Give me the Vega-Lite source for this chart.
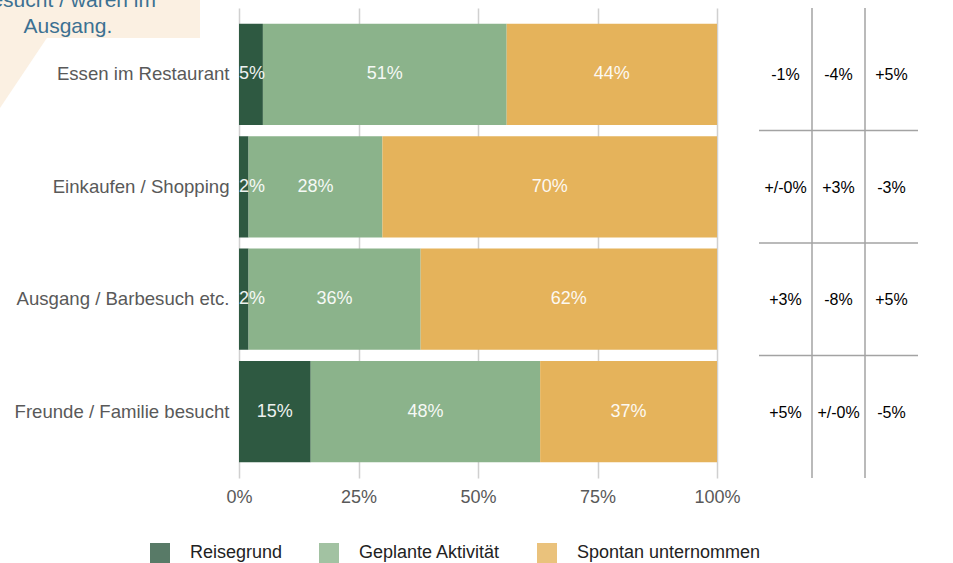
{
  "$schema": "https://vega.github.io/schema/vega-lite/v6.json",
  "width": 478,
  "height": 470,
  "autosize": {"type": "none"},
  "padding": {"left": 239, "top": 8, "right": 236, "bottom": 85},
  "config": {
    "view": {"stroke": null},
    "font": "Liberation Sans",
    "text": {"font": "Liberation Sans"}
  },
  "datasets": {
    "shares": [
      {"activity": "Essen im Restaurant", "reason": "Reisegrund", "pct": 5},
      {"activity": "Essen im Restaurant", "reason": "Geplante Aktivität", "pct": 51},
      {"activity": "Essen im Restaurant", "reason": "Spontan unternommen", "pct": 44},
      {"activity": "Einkaufen / Shopping", "reason": "Reisegrund", "pct": 2},
      {"activity": "Einkaufen / Shopping", "reason": "Geplante Aktivität", "pct": 28},
      {"activity": "Einkaufen / Shopping", "reason": "Spontan unternommen", "pct": 70},
      {"activity": "Ausgang / Barbesuch etc.", "reason": "Reisegrund", "pct": 2},
      {"activity": "Ausgang / Barbesuch etc.", "reason": "Geplante Aktivität", "pct": 36},
      {"activity": "Ausgang / Barbesuch etc.", "reason": "Spontan unternommen", "pct": 62},
      {"activity": "Freunde / Familie besucht", "reason": "Reisegrund", "pct": 15},
      {"activity": "Freunde / Familie besucht", "reason": "Geplante Aktivität", "pct": 48},
      {"activity": "Freunde / Familie besucht", "reason": "Spontan unternommen", "pct": 37}
    ],
    "changes": [
      {"activity": "Essen im Restaurant", "reason": "Reisegrund", "change": "-1%"},
      {"activity": "Essen im Restaurant", "reason": "Geplante Aktivität", "change": "-4%"},
      {"activity": "Essen im Restaurant", "reason": "Spontan unternommen", "change": "+5%"},
      {"activity": "Einkaufen / Shopping", "reason": "Reisegrund", "change": "+/-0%"},
      {"activity": "Einkaufen / Shopping", "reason": "Geplante Aktivität", "change": "+3%"},
      {"activity": "Einkaufen / Shopping", "reason": "Spontan unternommen", "change": "-3%"},
      {"activity": "Ausgang / Barbesuch etc.", "reason": "Reisegrund", "change": "+3%"},
      {"activity": "Ausgang / Barbesuch etc.", "reason": "Geplante Aktivität", "change": "-8%"},
      {"activity": "Ausgang / Barbesuch etc.", "reason": "Spontan unternommen", "change": "+5%"},
      {"activity": "Freunde / Familie besucht", "reason": "Reisegrund", "change": "+5%"},
      {"activity": "Freunde / Familie besucht", "reason": "Geplante Aktivität", "change": "+/-0%"},
      {"activity": "Freunde / Familie besucht", "reason": "Spontan unternommen", "change": "-5%"}
    ],
    "callout_box": [
      {"x": -50, "x2": -8.16, "y": -1.7, "y2": 6.38}
    ],
    "callout_tail": [
      {"x": -50, "top": 6.38, "bottom": 21.3},
      {"x": -40.2, "top": 6.38, "bottom": 6.38}
    ],
    "callout_text": [
      {"line": "besucht / waren im", "x": -35.8, "y": -0.21},
      {"line": "Ausgang.", "x": -35.8, "y": 5.32}
    ]
  },
  "layer": [
    {
      "data": {"name": "shares"},
      "transform": [
        {"calculate": "indexof(['Reisegrund', 'Geplante Aktivität', 'Spontan unternommen'], datum.reason)", "as": "rank"},
        {"stack": "pct", "groupby": ["activity"], "sort": [{"field": "rank", "order": "ascending"}], "as": ["x0", "x1"]},
        {"calculate": "max((datum.x0 + datum.x1) / 2, 2.7)", "as": "mid"},
        {"calculate": "datum.pct + '%'", "as": "label"}
      ],
      "encoding": {
        "y": {
          "field": "activity",
          "type": "nominal",
          "sort": null,
          "scale": {
            "domain": ["Essen im Restaurant", "Einkaufen / Shopping", "Ausgang / Barbesuch etc.", "Freunde / Familie besucht"],
            "paddingInner": 0.1,
            "paddingOuter": 0.14
          },
          "axis": {
            "title": null,
            "domain": false,
            "ticks": false,
            "labelFontSize": 18.6,
            "labelColor": "#595959",
            "labelPadding": 10,
            "labelLimit": 300
          }
        }
      },
      "layer": [
        {
          "mark": {"type": "bar"},
          "encoding": {
            "x": {
              "field": "x0",
              "type": "quantitative",
              "scale": {"domain": [0, 100], "nice": false, "zero": false},
              "axis": {
                "title": null,
                "values": [0, 25, 50, 75, 100],
                "labelExpr": "datum.value + '%'",
                "labelFlush": false,
                "labelFontSize": 18,
                "labelColor": "#595959",
                "labelPadding": 10,
                "domain": false,
                "ticks": false,
                "grid": true,
                "gridColor": "#d0d0d0",
                "gridWidth": 1.5
              }
            },
            "x2": {"field": "x1"},
            "color": {
              "field": "reason",
              "type": "nominal",
              "sort": null,
              "scale": {
                "domain": ["Reisegrund", "Geplante Aktivität", "Spontan unternommen"],
                "range": ["#2e5941", "#8bb38b", "#e5b35b"]
              },
              "legend": {
                "title": null,
                "orient": "none",
                "legendX": -89,
                "legendY": 535,
                "direction": "horizontal",
                "symbolType": "square",
                "symbolSize": 400,
                "symbolOpacity": 0.8,
                "symbolStrokeWidth": 0,
                "labelFontSize": 18,
                "labelColor": "#222222",
                "labelOffset": 20,
                "labelLimit": 300,
                "columnPadding": 36
              }
            }
          }
        },
        {
          "mark": {"type": "text", "fontSize": 18, "color": "#ffffff", "opacity": 0.92, "align": "center", "baseline": "middle"},
          "encoding": {
            "x": {"field": "mid", "type": "quantitative"},
            "text": {"field": "label"}
          }
        }
      ]
    },
    {
      "data": {"name": "changes"},
      "layer": [
        {
          "mark": {"type": "text", "fontSize": 16, "color": "#000000", "align": "center", "baseline": "middle", "dy": 1},
          "encoding": {
            "x": {
              "field": "reason",
              "type": "nominal",
              "sort": null,
              "scale": {"type": "band", "domain": ["Reisegrund", "Geplante Aktivität", "Spontan unternommen"], "range": [520, 679], "paddingInner": 0, "paddingOuter": 0},
              "axis": null
            },
            "y": {
              "field": "activity",
              "type": "nominal",
              "sort": null,
              "scale": {
                "domain": ["Essen im Restaurant", "Einkaufen / Shopping", "Ausgang / Barbesuch etc.", "Freunde / Familie besucht"],
                "paddingInner": 0.1,
                "paddingOuter": 0.14
              },
              "axis": null
            },
            "text": {"field": "change"}
          }
        },
        {
          "transform": [{"filter": "datum.activity === 'Essen im Restaurant' && datum.reason !== 'Reisegrund'"}],
          "mark": {"type": "rule", "color": "#a3a3a3", "strokeWidth": 1.5},
          "encoding": {
            "x": {"field": "reason", "type": "nominal", "bandPosition": 0}
          }
        },
        {
          "transform": [{"filter": "datum.activity !== 'Freunde / Familie besucht'"}],
          "mark": {"type": "rule", "color": "#a3a3a3", "strokeWidth": 1.5},
          "encoding": {
            "y": {"field": "activity", "type": "nominal", "bandPosition": 1.055},
            "x": {"field": "reason", "type": "nominal", "bandPosition": 0},
            "x2": {"field": "reason", "bandPosition": 1}
          }
        }
      ]
    },
    {
      "layer": [
        {
          "data": {"name": "callout_box"},
          "mark": {"type": "rect", "color": "#fbf0e2"},
          "encoding": {
            "x": {"field": "x", "type": "quantitative", "scale": {"domain": [0, 100], "nice": false, "zero": false}, "axis": null},
            "x2": {"field": "x2"},
            "y": {"field": "y", "type": "quantitative", "scale": {"domain": [0, 100], "nice": false, "zero": false, "reverse": true}, "axis": null},
            "y2": {"field": "y2"}
          }
        },
        {
          "data": {"name": "callout_tail"},
          "mark": {"type": "area", "color": "#fbf0e2", "orient": "vertical"},
          "encoding": {
            "x": {"field": "x", "type": "quantitative"},
            "y": {"field": "top", "type": "quantitative"},
            "y2": {"field": "bottom"}
          }
        },
        {
          "data": {"name": "callout_text"},
          "mark": {"type": "text", "fontSize": 21, "color": "#3b7192", "align": "center", "baseline": "alphabetic"},
          "encoding": {
            "x": {"field": "x", "type": "quantitative"},
            "y": {"field": "y", "type": "quantitative"},
            "text": {"field": "line"}
          }
        }
      ]
    }
  ],
  "resolve": {
    "scale": {"x": "independent", "y": "independent"},
    "axis": {"x": "independent", "y": "independent"}
  }
}
